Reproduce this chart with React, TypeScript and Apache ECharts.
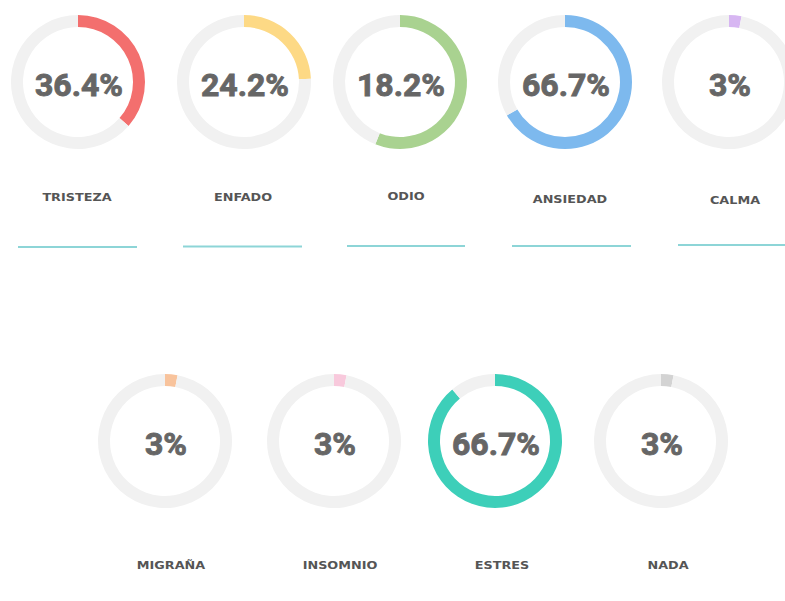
import React, { useEffect, useRef } from "react";
import * as echarts from "echarts";

// Data
const categories = ["TRISTEZA", "ENFADO", "ODIO", "ANSIEDAD", "CALMA", "MIGRAÑA", "INSOMNIO", "ESTRES", "NADA"];
const percentLabels = [36.4, 24.2, 18.2, 66.7, 3, 3, 3, 66.7, 3];
// share of the ring that is coloured, as drawn in the picture
const arcShares = [36.4, 24.2, 56, 66.7, 3, 3, 3, 89, 3];
const colors = ["#f36f6e", "#fdd985", "#a9d290", "#7db9ee", "#d7b6f2", "#f8c39c", "#f8c9dc", "#3dcfb9", "#d3d3d3"];

// Layout (pixels)
const ringCenters: [number, number][] = [
  [78, 82], [244, 82], [400, 82], [565, 82], [729, 82],
  [165, 441], [334, 441], [495, 441], [661, 441],
];
const labelPos: [number, number][] = [
  [77, 197], [243, 197], [406, 196], [570, 199], [735, 200],
  [171, 565], [340, 565], [502, 565], [668, 565],
];
const linesTop: [number, number, number][] = [
  [18, 137, 247], [183, 302, 246.5], [347, 465, 246], [512, 631, 246], [678, 785, 245],
];

export default function App() {
  const ref = useRef<HTMLDivElement>(null);
  useEffect(() => {
    if (!ref.current) return;
    const chart = echarts.init(ref.current, undefined, { renderer: "svg" });
    const series = categories.map((name, i) => ({
      type: "pie",
      name,
      center: ringCenters[i],
      radius: [55, 67],
      startAngle: 90,
      clockwise: true,
      silent: true,
      label: { show: false },
      labelLine: { show: false },
      data: [
        { name, value: arcShares[i], itemStyle: { color: colors[i] } },
        { name: name + "-rest", value: 100 - arcShares[i], itemStyle: { color: "#f1f1f1" } },
      ],
    }));
    const graphics: any[] = [];
    categories.forEach((name, i) => {
      graphics.push({
        type: "text",
        x: ringCenters[i][0] + 1,
        y: ringCenters[i][1] + 3,
        style: {
          text: percentLabels[i] + "%",
          fontFamily: "Roboto",
          fontWeight: 700,
          fontSize: 32,
          fill: "#666666",
          stroke: "#666666",
          lineWidth: 0.9,
          align: "center",
          verticalAlign: "middle",
        },
      });
      graphics.push({
        type: "text",
        x: labelPos[i][0],
        y: labelPos[i][1],
        scaleX: 1.22,
        style: {
          text: name,
          fontFamily: "DejaVu Sans",
          fontWeight: 700,
          fontSize: 10.5,
          fill: "#555555",
          align: "center",
          verticalAlign: "middle",
        },
      });
    });
    linesTop.forEach(([x1, x2, y]) => {
      graphics.push({
        type: "line",
        shape: { x1, y1: y, x2, y2: y },
        style: { stroke: "#8dd5d7", lineWidth: 2 },
      });
    });
    chart.setOption({
      animation: false,
      backgroundColor: "#ffffff",
      series,
      graphic: graphics,
    });
    return () => chart.dispose();
  }, []);
  return (
    <div
      ref={ref}
      style={{ position: "fixed", left: 0, top: 0, width: 785, height: 601, background: "#fff" }}
    />
  );
}
